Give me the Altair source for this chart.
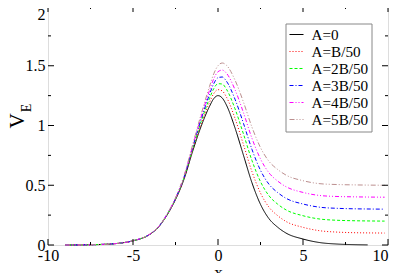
import altair as alt
import pandas as pd

# ---- data ----
series_names = ["A=0", "A=B/50", "A=2B/50", "A=3B/50", "A=4B/50", "A=5B/50"]
series_colors = ["#000000", "#ff0000", "#00ff00", "#0000ff", "#ff00ff", "#bc8f8f"]
series_dashes = [[1, 0], [1, 2], [3, 2], [4, 2, 1, 2], [4, 2, 1, 2, 1, 2], [5, 2, 1, 2, 1, 2]]

x_black = [-9, -8, -7, -6, -5, -4, -3.5, -3, -2.5, -2, -1.5, -1, -0.5, -0.25, 0, 0.25, 0.5,
           1, 1.5, 2, 2.5, 3, 3.5, 4, 5, 6, 7, 8, 8.8]
v_a0 = [0.0, 0.001, 0.004, 0.012, 0.035, 0.09, 0.15, 0.25, 0.38, 0.55, 0.78, 0.99, 1.16, 1.225,
        1.25, 1.23, 1.17, 0.98, 0.75, 0.52, 0.34, 0.22, 0.15, 0.10, 0.05, 0.02, 0.008, 0.003, 0.001]

x_col = [-9, -8, -7, -6, -5, -4, -3.5, -3, -2.5, -2, -1.5, -1, -0.5, -0.25, 0, 0.25, 0.5,
         1, 1.5, 2, 2.5, 3, 3.5, 4, 5, 6, 7, 8, 9, 9.8]
v_a1 = [0, 0.001, 0.004, 0.012, 0.035, 0.090, 0.151, 0.252, 0.383, 0.556, 0.791, 1.010, 1.193,
        1.267, 1.300, 1.289, 1.237, 1.060, 0.839, 0.613, 0.435, 0.316, 0.247, 0.197, 0.148,
        0.119, 0.108, 0.103, 0.101, 0.100]
v_a2 = [0, 0.001, 0.004, 0.012, 0.035, 0.091, 0.152, 0.253, 0.386, 0.562, 0.802, 1.030, 1.227,
        1.308, 1.350, 1.347, 1.303, 1.140, 0.928, 0.706, 0.530, 0.412, 0.343, 0.294, 0.245,
        0.217, 0.207, 0.203, 0.201, 0.200]
v_a3 = [0, 0.001, 0.004, 0.012, 0.035, 0.091, 0.152, 0.255, 0.389, 0.567, 0.813, 1.050, 1.260,
        1.350, 1.400, 1.406, 1.370, 1.220, 1.017, 0.799, 0.625, 0.508, 0.440, 0.391, 0.343,
        0.316, 0.307, 0.303, 0.301, 0.300]
v_a4 = [0, 0.001, 0.004, 0.012, 0.035, 0.092, 0.153, 0.256, 0.392, 0.573, 0.824, 1.070, 1.293,
        1.391, 1.450, 1.464, 1.437, 1.300, 1.106, 0.892, 0.720, 0.604, 0.536, 0.488, 0.440,
        0.414, 0.406, 0.403, 0.401, 0.400]
v_a5 = [0, 0.001, 0.004, 0.012, 0.036, 0.092, 0.154, 0.258, 0.395, 0.579, 0.835, 1.090, 1.327,
        1.433, 1.500, 1.523, 1.504, 1.380, 1.195, 0.985, 0.815, 0.700, 0.633, 0.585, 0.538,
        0.513, 0.506, 0.503, 0.501, 0.500]

x_ticks_major = [-10, -5, 0, 5, 10]
x_ticks_minor = [-7.5, -2.5, 2.5, 7.5]
y_ticks_major = [0, 0.5, 1, 1.5, 2]
y_ticks_minor = [0.25, 0.75, 1.25, 1.75]

# ---- build table ----
rows = []
for xv, yv in zip(x_black, v_a0):
    rows.append({"x": xv, "v": yv, "series": series_names[0]})
for k, vals in enumerate([v_a1, v_a2, v_a3, v_a4, v_a5], start=1):
    for xv, yv in zip(x_col, vals):
        rows.append({"x": xv, "v": yv, "series": series_names[k]})
df = pd.DataFrame(rows)

W, H = 340, 239
FONT = "Liberation Serif, Times New Roman, Times, serif"

xscale = alt.Scale(domain=[-10, 10], nice=False, zero=False)
yscale = alt.Scale(domain=[0, 2], nice=False, zero=False)

xaxis = alt.Axis(values=x_ticks_major, ticks=False, domain=False, grid=False,
                 labelFont=FONT, labelFontSize=16, labelColor="black", labelFlush=False,
                 labelAlign={"condition": {"test": "datum.value == 10", "value": "right"},
                             "value": "center"},
                 labelOverlap=False, labelPadding=2, labelExpr="'' + datum.value",
                 title="x", titleFont=FONT, titleFontSize=17,
                 titleFontWeight="normal", titleColor="black", titlePadding=1)
yaxis = alt.Axis(values=y_ticks_major, ticks=False, domain=False, grid=False,
                 labelFont=FONT, labelFontSize=16, labelColor="black", labelFlush=False,
                 labelBaseline={"condition": {"test": "datum.value == 2", "value": "top"},
                                "value": "middle"},
                 labelOverlap=False, labelPadding=3, labelExpr="'' + datum.value", title=None)

legend = alt.Legend(
    title=None, orient="none", legendX=237.5, legendY=17.5,
    labelFont=FONT, labelFontSize=15.2, labelColor="black", labelLimit=0,
    symbolType="stroke", symbolSize=196, symbolStrokeWidth=1.2,
    rowPadding=0, padding=3, labelOffset=7,
    strokeColor="#888888", fillColor="white", cornerRadius=0,
)

lines = alt.Chart(df).mark_line(strokeWidth=1, interpolate="monotone").encode(
    x=alt.X("x:Q", scale=xscale, axis=xaxis, title="x"),
    y=alt.Y("v:Q", scale=yscale, axis=yaxis, title=None),
    color=alt.Color("series:N", scale=alt.Scale(domain=series_names, range=series_colors),
                    legend=legend),
    strokeDash=alt.StrokeDash("series:N",
                              scale=alt.Scale(domain=series_names, range=series_dashes),
                              legend=legend),
    detail="series:N",
)

def ticks_x(vals, length):
    d = pd.DataFrame({"x": vals})
    b = alt.Chart(d).mark_rule(color="black", strokeWidth=1).encode(
        x=alt.X("x:Q", scale=xscale, axis=xaxis, title="x"),
        y=alt.value(H), y2=alt.value(H - length))
    t = alt.Chart(d).mark_rule(color="black", strokeWidth=1).encode(
        x=alt.X("x:Q", scale=xscale, axis=xaxis, title="x"),
        y=alt.value(0), y2=alt.value(length))
    return [b, t]

def ticks_y(vals, length):
    d = pd.DataFrame({"v": vals})
    l = alt.Chart(d).mark_rule(color="black", strokeWidth=1).encode(
        y=alt.Y("v:Q", scale=yscale, axis=yaxis, title=None),
        x=alt.value(0), x2=alt.value(length))
    r = alt.Chart(d).mark_rule(color="black", strokeWidth=1).encode(
        y=alt.Y("v:Q", scale=yscale, axis=yaxis, title=None),
        x=alt.value(W), x2=alt.value(W - length))
    return [l, r]

tick_layers = (ticks_x(x_ticks_major, 6) + ticks_x(x_ticks_minor, 3)
               + ticks_y(y_ticks_major, 6) + ticks_y(y_ticks_minor, 3))

ytitle_df = pd.DataFrame({"main": ["V"], "sub": ["E"]})
ytitle_main = alt.Chart(ytitle_df).mark_text(
    font=FONT, fontSize=21, angle=270, color="black", align="center", baseline="middle"
).encode(text="main:N", x=alt.value(-30), y=alt.value(115))
ytitle_sub = alt.Chart(ytitle_df).mark_text(
    font=FONT, fontSize=14, angle=270, color="black", align="center", baseline="middle"
).encode(text="sub:N", x=alt.value(-21), y=alt.value(102))

chart = alt.layer(lines, *tick_layers, ytitle_main, ytitle_sub).properties(
    width=W, height=H,
    autosize=alt.AutoSizeParams(type="none"),
    padding={"left": 40, "top": -2, "right": 1, "bottom": 28},
).configure_view(stroke="black", strokeWidth=1).configure(background="white")

chart.save("out.html", embed_options={"renderer": "svg", "actions": False})
